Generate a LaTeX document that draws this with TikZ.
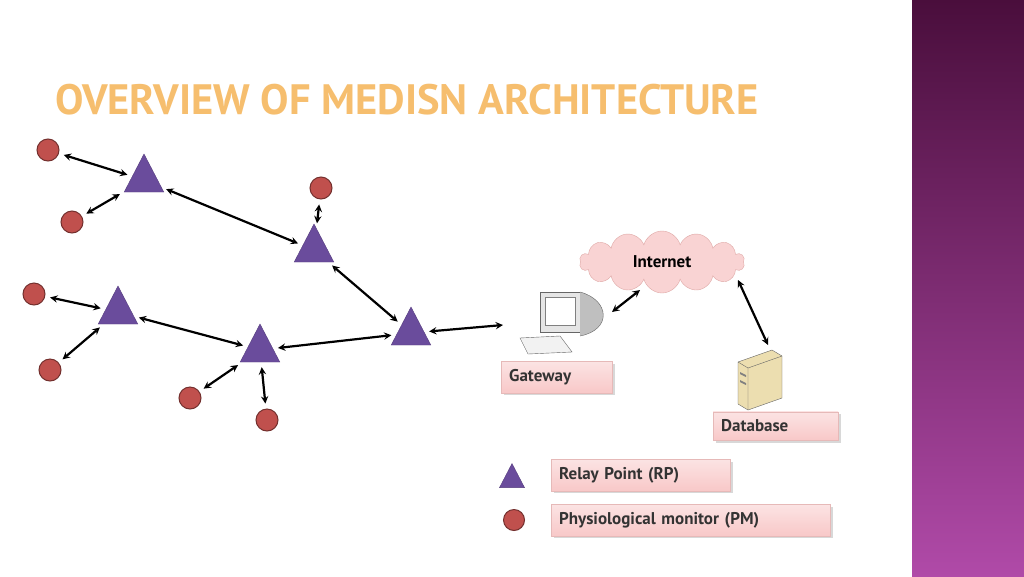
\documentclass[tikz,border=0pt]{standalone}
\usepackage{fontspec}
\setmainfont{PT Sans}
\usetikzlibrary{shapes.geometric,shapes.symbols,shadows}
\definecolor{rpcol}{RGB}{106,76,156}
\definecolor{pmcol}{RGB}{192,80,77}
\definecolor{labcol}{RGB}{248,200,200}
\definecolor{titcol}{RGB}{246,190,110}
\tikzset{
  relay/.style={isosceles triangle,shape border rotate=90,isosceles triangle apex angle=55,
    fill=rpcol,draw=rpcol!80!black,minimum height=38pt,inner sep=0pt},
  monitor/.style={circle,fill=pmcol,draw=pmcol!60!black,line width=1pt,minimum size=22pt,inner sep=0pt},
  link/.style={<->,>=stealth,line width=2.2pt,shorten <=5pt,shorten >=5pt},
  tag/.style={draw=pmcol!40,top color=labcol!50,bottom color=labcol,drop shadow={opacity=0.3},
    font=\bfseries\fontsize{17}{19}\selectfont,text=black!80,anchor=west,inner sep=8pt,minimum height=27pt,
    align=left}
}
\begin{document}
\begin{tikzpicture}[x=1pt,y=-1pt]
\useasboundingbox (0,0) rectangle (1024,576);
\fill[white] (0,0) rectangle (1024,576);
% side bar
\shade[top color={rgb,255:red,74;green,14;blue,60},bottom color={rgb,255:red,176;green,74;blue,168}] (912,0) rectangle (1024,576);
% title
\node[text=titcol,font=\bfseries\fontsize{42.5}{44}\selectfont,anchor=west,inner sep=0pt] (title) at (55,100) {OVERVIEW OF MEDISN ARCHITECTURE};
% relay points
\node[relay] (rp1) at (144,180) {};
\node[relay] (rp2) at (314,250) {};
\node[relay] (rp3) at (118,312) {};
\node[relay] (rp4) at (260,350) {};
\node[relay] (rp5) at (411,333) {};
% monitors
\node[monitor] (pm1) at (48,150) {};
\node[monitor] (pm2) at (72,222) {};
\node[monitor] (pm3) at (321,188) {};
\node[monitor] (pm4) at (34,294) {};
\node[monitor] (pm5) at (50,370) {};
\node[monitor] (pm6) at (190,398) {};
\node[monitor] (pm7) at (267,420) {};
% gateway computer
\coordinate (gw) at (560,320);
\draw[fill=black!10,draw=black!60] (540,292) rectangle (580,332);
\fill[black!25] (580,292) .. controls (610,300) and (612,330) .. (580,336) -- cycle;
\draw[black!60] (580,292) .. controls (610,300) and (612,330) .. (580,336);
\draw[fill=white,draw=black!50] (545,297) rectangle (575,325);
\draw[fill=black!5,draw=black!60] (520,338) -- (560,336) -- (572,352) -- (528,354) -- cycle;
\node[tag,text width=95pt] (gwl) at (501,377) {Gateway};
% internet cloud
\node[cloud,cloud puffs=14,aspect=2.6,fill=labcol!80,draw=pmcol!50,minimum width=165pt,minimum height=62pt,
  font=\bfseries\fontsize{17}{19}\selectfont] (net) at (662,262) {Internet};
% database server
\coordinate (db) at (760,378);
\draw[fill={rgb,255:red,236;green,222;blue,176},draw=black!60] (738,362) -- (772,350) -- (782,356) -- (782,398) -- (748,410) -- (738,404) -- cycle;
\draw[black!60] (738,362) -- (748,368) -- (782,356) (748,368) -- (748,410);
\fill[black!50] (740,372) -- (746,375) -- (746,377) -- (740,374) -- cycle;
\fill[black!50] (740,380) -- (746,383) -- (746,385) -- (740,382) -- cycle;
\node[tag,text width=109pt] (dbl) at (713,426) {Database};
% legend
\node[relay,minimum height=24pt] (legrp) at (512,480) {};
\node[monitor,minimum size=21pt] (legpm) at (514,520) {};
\node[tag,text width=163pt] (legrpl) at (551,475) {Relay Point (RP)};
\node[tag,text width=263pt] (legpml) at (551,520) {Physiological monitor (PM)};
% links
\draw[link] (pm1) -- (rp1);
\draw[link] (pm2) -- (rp1);
\draw[link] (rp1) -- (rp2);
\draw[link] (pm3) -- (rp2);
\draw[link] (rp2) -- (rp5);
\draw[link] (pm4) -- (rp3);
\draw[link] (pm5) -- (rp3);
\draw[link] (rp3) -- (rp4);
\draw[link] (rp4) -- (rp5);
\draw[link] (pm6) -- (rp4);
\draw[link] (pm7) -- (rp4);
\draw[link,shorten >=0pt] (rp5) -- (503,325);
\draw[link,shorten <=0pt,shorten >=0pt] (612,312) -- (640,290);
\draw[link,shorten <=0pt,shorten >=0pt] (738,280) -- (768,345);
\end{tikzpicture}
\end{document}
